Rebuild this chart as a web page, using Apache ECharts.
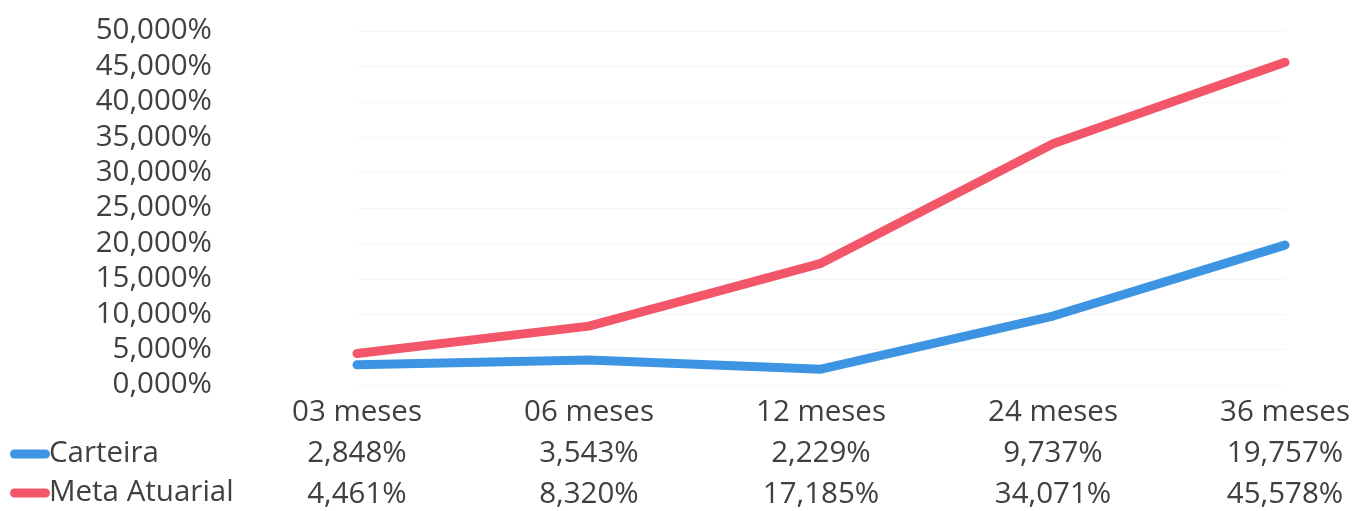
<!DOCTYPE html>
<html><head><meta charset="utf-8">
<script src="https://cdn.jsdelivr.net/npm/echarts@6/dist/echarts.min.js"></script>
<style>html,body{margin:0;padding:0;background:#fff;overflow:hidden}#c{width:1365px;height:511px}</style>
</head><body><div id="c"></div>
<script>
const categories = ['03 meses','06 meses','12 meses','24 meses','36 meses'];
const carteira = [2.848, 3.543, 2.229, 9.737, 19.757];
const meta = [4.461, 8.320, 17.185, 34.071, 45.578];
const seriesNames = ['Carteira','Meta Atuarial'];
const fmt = v => v.toFixed(3).replace('.', ',') + '%';
const FONT = 'Open Sans';
const TXT = '#404040';
const FS = 29.5;
const icon = 'path://M4.5,0 L35.5,0 A4.5,4.5 0 0 1 35.5,9 L4.5,9 A4.5,4.5 0 0 1 4.5,0 Z';
const legendBase = {
  left:10, itemWidth:40, itemHeight:9, icon:icon, padding:0,
  textStyle:{fontSize:FS, color:TXT, fontFamily:FONT, padding:[0,0,0,-6]}
};
const chart = echarts.init(document.getElementById('c'));
chart.setOption({
  animation:false,
  textStyle:{fontFamily:FONT},
  grid:{left:357, right:80, top:31, bottom:126, outerBoundsMode:'none'},
  legend:[
    Object.assign({}, legendBase, {top:439, data:[seriesNames[0]]}),
    Object.assign({}, legendBase, {top:478, data:[seriesNames[1]]})
  ],
  xAxis:{
    type:'category', data:categories, boundaryGap:false,
    axisLine:{show:false}, axisTick:{show:false},
    axisLabel:{
      margin:7, color:TXT, fontSize:FS, lineHeight:41, verticalAlign:'top',
      formatter:(v, i) => v + '\n' + fmt(carteira[i]) + '\n' + fmt(meta[i])
    }
  },
  yAxis:{
    type:'value', min:0, max:50, interval:5,
    axisLabel:{formatter:fmt, margin:145, color:TXT, fontSize:FS},
    splitLine:{lineStyle:{color:'#f5f5f5', width:1}}
  },
  series:[
    {name:seriesNames[0], type:'line', data:carteira, symbol:'none', color:'#3d94e2',
     lineStyle:{width:9, cap:'round', join:'round', color:'#3d94e2'}},
    {name:seriesNames[1], type:'line', data:meta, symbol:'none', color:'#f35668',
     lineStyle:{width:9, cap:'round', join:'round', color:'#f35668'}}
  ]
});
</script></body></html>
